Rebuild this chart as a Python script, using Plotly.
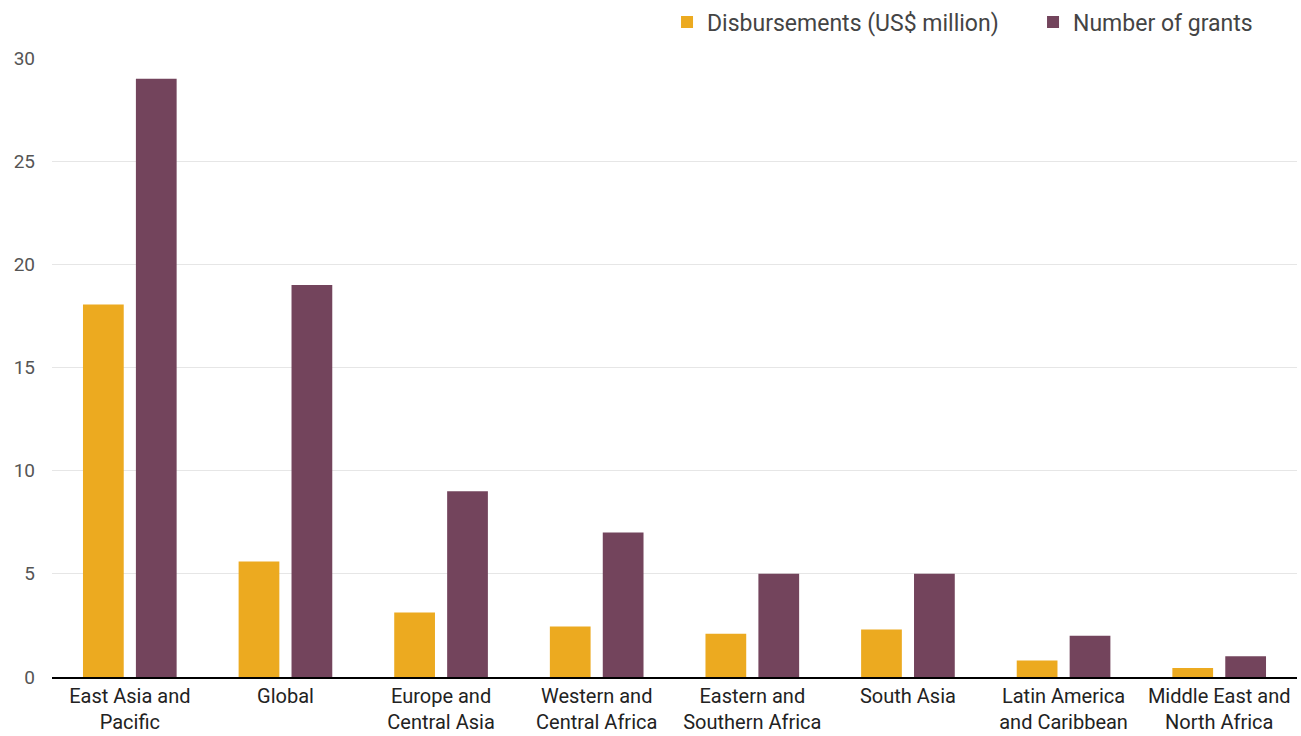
import plotly.graph_objects as go

categories = ["East Asia and<br>Pacific", "Global", "Europe and<br>Central Asia",
              "Western and<br>Central Africa", "Eastern and<br>Southern Africa", "South Asia",
              "Latin America<br>and Caribbean", "Middle East and<br>North Africa"]
disbursements = [18.05, 5.6, 3.12, 2.45, 2.1, 2.3, 0.8, 0.44]
grants = [29, 19, 9, 7, 5, 5, 2, 1]
y_ticks = [0, 5, 10, 15, 20, 25, 30]

fig = go.Figure()
fig.add_bar(x=categories, y=disbursements, name="Disbursements (US$ million)",
            marker=dict(color="#ECAA20", line=dict(width=0)))
fig.add_bar(x=categories, y=grants, name="Number of grants",
            marker=dict(color="#73445C", line=dict(width=0)))

fig.update_layout(
    width=1301, height=736,
    margin=dict(l=52, r=4, t=58, b=59, autoexpand=False),
    barmode="group", bargap=0.32, bargroupgap=0.23,
    plot_bgcolor="white", paper_bgcolor="white",
    font=dict(family="Roboto, Lato, sans-serif", size=20, color="#333"),
    legend=dict(orientation="h", x=0.494, xanchor="left", y=1.058, yanchor="middle",
                font=dict(size=23, color="#444"), entrywidth=321, entrywidthmode="pixels",
                itemwidth=30, traceorder="normal"),
    showlegend=True,
)
fig.update_xaxes(showline=True, linecolor="black", linewidth=2, ticks="", automargin=False,
                 tickfont=dict(size=20, color="#222"), fixedrange=True)
fig.update_yaxes(range=[0, 30], tickvals=y_ticks, showgrid=True, gridcolor="#e6e6e6",
                 gridwidth=1, zeroline=False, showline=False, automargin=False,
                 tickfont=dict(size=19, color="#555"), ticklabelstandoff=16)

fig.write_html("out.html", config={"displayModeBar": False},
               post_script="document.body.style.margin='0';")
